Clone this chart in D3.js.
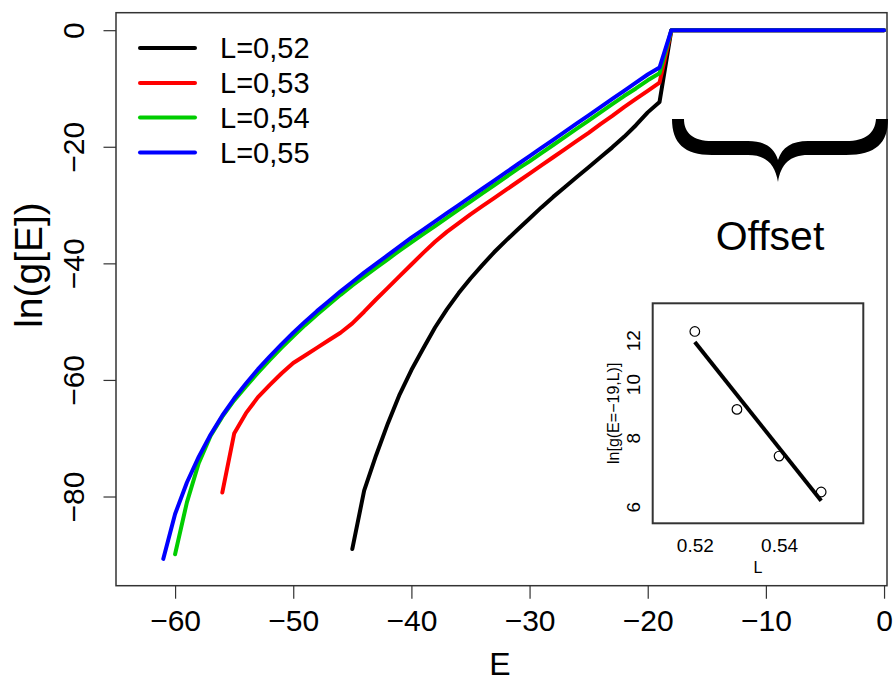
<!DOCTYPE html>
<html>
<head>
<meta charset="utf-8">
<script src="https://cdn.jsdelivr.net/npm/d3@7"></script>
<style>
  html, body { margin: 0; padding: 0; background: #fff; }
  svg { display: block; font-family: "Liberation Sans", Arial, Helvetica, sans-serif; }
</style>
</head>
<body>
<svg id="chart" width="896" height="682"></svg>
<script>
// ---------- data ----------
const seriesNames = ["L=0,52", "L=0,53", "L=0,54", "L=0,55"];
const seriesColors = ["#000000", "#ff0000", "#00cd00", "#0000ff"];

const eL52 = [-45,-44,-43,-42,-41,-40,-39,-38,-37,-36,-35,-34,-33,-32,-31,-30,-29,-28,-27,-26,-25,-24,-23,-22,-21,-20,-19,-18,0];
const gL52 = [-89.0,-79.0,-73.0,-67.5,-62.5,-58.3,-54.6,-51.0,-47.9,-45.1,-42.6,-40.3,-38.1,-36.1,-34.2,-32.3,-30.4,-28.6,-26.9,-25.2,-23.5,-21.8,-20.1,-18.3,-16.3,-14.1,-12.3,0,0];

const eL53 = [-56,-55,-54,-53,-52,-51,-50,-49,-48,-47,-46,-45,-44,-43,-42,-41,-40,-39,-38,-37,-36,-35,-34,-33,-32,-31,-30,-29,-28,-27,-26,-25,-24,-23,-22,-21,-20,-19,-18,0];
const gL53 = [-79.3,-69.2,-65.7,-63.0,-60.9,-58.9,-57.1,-55.8,-54.5,-53.2,-51.9,-50.3,-48.3,-46.2,-44.2,-42.2,-40.2,-38.2,-36.3,-34.6,-33.1,-31.6,-30.2,-28.8,-27.4,-26.0,-24.6,-23.2,-21.8,-20.4,-19.0,-17.6,-16.1,-14.7,-13.2,-11.8,-10.4,-9.0,0,0];

const eL54 = [-60,-59,-58,-57,-56,-55,-54,-53,-52,-51,-50,-49,-48,-47,-46,-45,-44,-43,-42,-41,-40,-39,-38,-37,-36,-35,-34,-33,-32,-31,-30,-29,-28,-27,-26,-25,-24,-23,-22,-21,-20,-19,-18,0];
const gL54 = [-89.9,-81.0,-74.3,-69.6,-66.3,-63.5,-61.1,-58.8,-56.6,-54.5,-52.5,-50.6,-48.8,-47.1,-45.4,-43.8,-42.3,-40.8,-39.3,-37.8,-36.4,-35.0,-33.6,-32.2,-30.8,-29.4,-28.0,-26.6,-25.2,-23.8,-22.5,-21.1,-19.7,-18.3,-16.9,-15.5,-14.1,-12.7,-11.3,-10.0,-8.6,-7.4,0,0];

const eL55 = [-61,-60,-59,-58,-57,-56,-55,-54,-53,-52,-51,-50,-49,-48,-47,-46,-45,-44,-43,-42,-41,-40,-39,-38,-37,-36,-35,-34,-33,-32,-31,-30,-29,-28,-27,-26,-25,-24,-23,-22,-21,-20,-19,-18,0];
const gL55 = [-90.7,-83.0,-77.6,-73.2,-69.4,-66.1,-63.2,-60.6,-58.2,-56.0,-53.9,-51.9,-50.0,-48.2,-46.5,-44.8,-43.2,-41.6,-40.1,-38.6,-37.1,-35.6,-34.2,-32.8,-31.4,-30.0,-28.6,-27.2,-25.8,-24.4,-23.0,-21.6,-20.2,-18.8,-17.4,-16.0,-14.6,-13.2,-11.8,-10.4,-9.0,-7.6,-6.4,0,0];

const xTicks = [-60, -50, -40, -30, -20, -10, 0];
const yTicks = [0, -20, -40, -60, -80];

// inset data
const insetL = [0.52, 0.53, 0.54, 0.55];
const insetG = [12.45, 9.0, 7.41, 6.38];
const fitL = [0.52, 0.55];
const fitG = [11.92, 6.15];
const insetXTicks = [0.52, 0.54];
const insetYTicks = [6, 8, 10, 12];

// ---------- drawing ----------
const svg = d3.select("#chart");
const FONT = '"Liberation Sans", Arial, Helvetica, sans-serif';

const box = { left: 116, right: 887, top: 12.7, bottom: 585.7 };
const x = d3.scaleLinear().domain([-65, 0.25]).range([box.left, box.right]);
const y = d3.scaleLinear().domain([-95.3, 3.0]).range([box.bottom, box.top]);

// curves
const series = [
  { e: eL52, g: gL52 },
  { e: eL53, g: gL53 },
  { e: eL54, g: gL54 },
  { e: eL55, g: gL55 }
];
const line = d3.line().x(d => x(d[0])).y(d => y(d[1]));
series.forEach((s, i) => {
  const pts = s.e.map((e, j) => [e, s.g[j]]);
  svg.append("path")
    .attr("d", line(pts))
    .attr("fill", "none")
    .attr("stroke", seriesColors[i])
    .attr("stroke-width", 4)
    .attr("stroke-linejoin", "round")
    .attr("stroke-linecap", "round");
});

// box
svg.append("rect")
  .attr("x", box.left).attr("y", box.top)
  .attr("width", box.right - box.left).attr("height", box.bottom - box.top)
  .attr("fill", "none").attr("stroke", "#333").attr("stroke-width", 1.5);

// x axis
const xAxis = svg.append("g")
  .attr("transform", `translate(0,${box.bottom})`)
  .call(d3.axisBottom(x).tickValues(xTicks).tickSize(13).tickFormat(d3.format("d")));
xAxis.select(".domain").remove();
xAxis.selectAll(".tick line").attr("stroke", "#333").attr("stroke-width", 1.2);
xAxis.selectAll(".tick text")
  .attr("y", 35).attr("dy", "0.36em")
  .attr("font-size", 30).attr("font-family", FONT).attr("fill", "#000");

// y axis
const yAxis = svg.append("g")
  .attr("transform", `translate(${box.left},0)`)
  .call(d3.axisLeft(y).tickValues(yTicks).tickSize(12.5).tickFormat(d3.format("d")));
yAxis.select(".domain").remove();
yAxis.selectAll(".tick line").attr("stroke", "#333").attr("stroke-width", 1.2);
yAxis.selectAll(".tick text")
  .attr("x", null).attr("dy", "0.36em")
  .attr("text-anchor", "middle")
  .attr("transform", `translate(${73 - box.left},0) rotate(-90)`)
  .attr("font-size", 30).attr("font-family", FONT).attr("fill", "#000");

// axis titles
svg.append("text")
  .attr("x", 500).attr("y", 675)
  .attr("text-anchor", "middle").attr("font-size", 32).text("E");
svg.append("text")
  .attr("transform", "translate(28,265) rotate(-90)")
  .attr("dy", "0.36em")
  .attr("text-anchor", "middle").attr("font-size", 39).text("ln(g[E])");

// legend
const legY = [48, 83, 117.5, 152.5];
seriesNames.forEach((name, i) => {
  svg.append("line")
    .attr("x1", 140).attr("x2", 195)
    .attr("y1", legY[i]).attr("y2", legY[i])
    .attr("stroke", seriesColors[i]).attr("stroke-width", 4)
    .attr("stroke-linecap", "round");
  svg.append("text")
    .attr("x", 220).attr("y", legY[i]).attr("dy", "0.36em")
    .attr("font-size", 29).text(name);
});

// brace
svg.append("path")
  .attr("d", "M 672 119 C 672 143, 684 155, 712 155 L 748 155 C 766 155, 775 164, 778 182 " +
             "C 781 164, 790 155, 808 155 L 846 155 C 876 155, 888 143, 888 119 " +
             "C 884 119, 880 119, 876 119 C 875 133, 866 141, 846 141 L 808 141 " +
             "C 792 141, 782 147, 778 160 C 774 147, 764 141, 748 141 L 712 141 " +
             "C 693 141, 684 133, 684 119 Z")
  .attr("fill", "#000");
svg.append("text")
  .attr("x", 770).attr("y", 250)
  .attr("text-anchor", "middle").attr("font-size", 41).text("Offset");

// ---------- inset ----------
const ib = { left: 652.7, right: 863.3, top: 303.3, bottom: 523.3 };
svg.append("rect")
  .attr("x", ib.left).attr("y", ib.top)
  .attr("width", ib.right - ib.left).attr("height", ib.bottom - ib.top)
  .attr("fill", "#fff").attr("stroke", "#333").attr("stroke-width", 2);

const ix = d3.scaleLinear().domain([0.51, 0.56]).range([ib.left, ib.right]);
const iy = d3.scaleLog().domain([5.6, 14]).range([ib.bottom, ib.top]);

const ixAxis = svg.append("g")
  .attr("transform", `translate(0,${ib.bottom})`)
  .call(d3.axisBottom(ix).tickValues(insetXTicks).tickSize(0).tickFormat(d3.format(".2f")));
ixAxis.select(".domain").remove();
ixAxis.selectAll(".tick text")
  .attr("y", 22).attr("dy", "0.36em")
  .attr("font-size", 19).attr("font-family", FONT).attr("fill", "#000");

const iyAxis = svg.append("g")
  .attr("transform", `translate(${ib.left},0)`)
  .call(d3.axisLeft(iy).tickValues(insetYTicks).tickSize(0).tickFormat(d3.format("d")));
iyAxis.select(".domain").remove();
iyAxis.selectAll(".tick text")
  .attr("x", null).attr("dy", "0.36em")
  .attr("text-anchor", "middle")
  .attr("transform", `translate(${633 - ib.left},0) rotate(-90)`)
  .attr("font-size", 19).attr("font-family", FONT).attr("fill", "#000");

svg.append("text")
  .attr("x", 758).attr("y", 567).attr("dy", "0.36em")
  .attr("text-anchor", "middle").attr("font-size", 16).text("L");
svg.append("text")
  .attr("transform", `translate(613,${(ib.top + ib.bottom) / 2}) rotate(-90)`)
  .attr("dy", "0.36em")
  .attr("text-anchor", "middle").attr("font-size", 16).text("ln[g(E=\u221219,L)]");

// fit line
svg.append("line")
  .attr("x1", ix(fitL[0])).attr("y1", iy(fitG[0]))
  .attr("x2", ix(fitL[1])).attr("y2", iy(fitG[1]))
  .attr("stroke", "#000").attr("stroke-width", 4);

// points
svg.selectAll("circle.pt")
  .data(insetL.map((l, i) => [l, insetG[i]]))
  .enter().append("circle")
  .attr("class", "pt")
  .attr("cx", d => ix(d[0])).attr("cy", d => iy(d[1]))
  .attr("r", 4.8)
  .attr("fill", "none").attr("stroke", "#000").attr("stroke-width", 1.2);
</script>
</body>
</html>
